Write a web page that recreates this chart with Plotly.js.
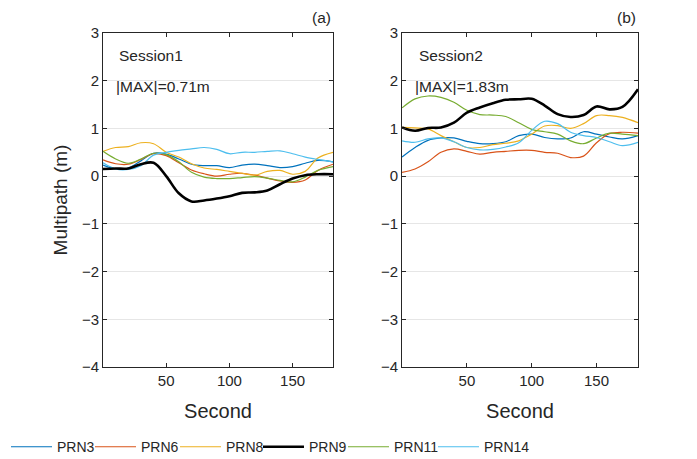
<!DOCTYPE html>
<html>
<head>
<meta charset="utf-8">
<script src="https://cdn.plot.ly/plotly-3.0.1.min.js"></script>
<style>html,body{margin:0;padding:0;background:#fff;}#chart{width:697px;height:459px;}</style>
</head>
<body>
<div id="chart"></div>
<script>
const seconds = [0,10,20,30,40,50,60,70,80,90,100,110,120,130,140,150,160,170,182];
const prnNames = ['PRN3','PRN6','PRN8','PRN9','PRN11','PRN14'];
const prnColors = ['#0072BD','#D95319','#EDB120','#000000','#77AC30','#4DBEEE'];

// Session 1
const s1_PRN3  = [0.23,0.15,0.17,0.32,0.48,0.46,0.36,0.25,0.22,0.22,0.18,0.23,0.25,0.22,0.18,0.20,0.27,0.33,0.30];
const s1_PRN6  = [0.34,0.26,0.25,0.35,0.47,0.43,0.28,0.13,0.05,0.00,0.04,0.06,0.02,-0.04,-0.10,-0.13,-0.08,0.12,0.25];
const s1_PRN8  = [0.52,0.60,0.62,0.70,0.68,0.50,0.40,0.26,0.17,0.14,0.10,0.06,0.02,0.10,0.12,0.04,0.10,0.38,0.50];
const s1_PRN9  = [0.15,0.16,0.16,0.25,0.28,0.00,-0.36,-0.53,-0.51,-0.47,-0.42,-0.35,-0.34,-0.30,-0.17,-0.05,0.02,0.04,0.04];
const s1_PRN11 = [0.52,0.36,0.27,0.36,0.48,0.45,0.30,0.08,-0.02,-0.05,-0.05,-0.03,-0.01,-0.04,-0.09,-0.12,-0.02,0.12,0.20];
const s1_PRN14 = [0.28,0.15,0.14,0.22,0.44,0.50,0.54,0.57,0.60,0.56,0.47,0.50,0.50,0.52,0.53,0.47,0.40,0.35,0.30];

// Session 2
const s2_PRN3  = [0.40,0.60,0.75,0.80,0.80,0.73,0.68,0.68,0.72,0.85,0.88,0.81,0.78,0.80,0.93,0.88,0.82,0.78,0.85];
const s2_PRN6  = [0.08,0.15,0.30,0.50,0.57,0.52,0.46,0.50,0.52,0.54,0.54,0.50,0.48,0.39,0.42,0.70,0.89,0.92,0.90];
const s2_PRN8  = [1.02,1.01,0.99,0.85,0.72,0.60,0.60,0.66,0.69,0.74,0.88,1.05,1.06,1.00,1.10,1.27,1.27,1.23,1.12];
const s2_PRN9  = [1.02,0.95,1.01,1.02,1.12,1.33,1.44,1.53,1.60,1.61,1.62,1.48,1.30,1.24,1.28,1.46,1.40,1.45,1.82];
const s2_PRN11 = [1.43,1.62,1.68,1.65,1.55,1.38,1.29,1.28,1.25,1.12,0.98,0.93,0.88,0.74,0.68,0.80,0.90,0.88,0.85];
const s2_PRN14 = [0.74,0.71,0.78,0.80,0.72,0.60,0.55,0.56,0.61,0.70,0.96,1.15,1.10,0.92,0.85,0.81,0.72,0.64,0.71];

const xTicks = [50,100,150];
const yTicks = [-4,-3,-2,-1,0,1,2,3];

const session1 = [s1_PRN3,s1_PRN6,s1_PRN8,s1_PRN9,s1_PRN11,s1_PRN14];
const session2 = [s2_PRN3,s2_PRN6,s2_PRN8,s2_PRN9,s2_PRN11,s2_PRN14];

const legendIds = ['legend','legend2','legend3','legend4','legend5','legend6'];
const legendX = [-0.1813,-0.0243,0.1346,0.2897,0.4486,0.6168];

const traces = [];
[session1, session2].forEach((sess, si) => {
  sess.forEach((vals, i) => {
    traces.push({
      x: seconds, y: vals, type: 'scatter', mode: 'lines',
      name: prnNames[i],
      legend: legendIds[i],
      showlegend: si === 0,
      xaxis: si === 0 ? 'x' : 'x2',
      yaxis: si === 0 ? 'y' : 'y2',
      line: {color: prnColors[i], width: prnNames[i] === 'PRN9' ? 2.6 : 1.2, shape: 'spline', smoothing: 1}
    });
  });
});
// draw PRN9 on top of the others
const ordered = traces.filter(t => t.name !== 'PRN9').concat(traces.filter(t => t.name === 'PRN9'));

const fam = 'Liberation Sans, Arial, sans-serif';
const txt = '#262626';

const xax = (dom) => ({
  domain: dom, range: [0, 182], tickvals: xTicks, ticks: 'inside', ticklen: 4, tickcolor: txt,
  showline: true, linecolor: txt, linewidth: 1, mirror: 'ticks', showgrid: false, zeroline: false,
  tickfont: {size: 15, family: fam, color: txt},
  title: {text: 'Second', font: {size: 20, family: fam, color: txt}, standoff: 15}
});
const yax = (anchor, showTitle) => ({
  anchor: anchor, domain: [0, 1], range: [-4, 3], tickvals: yTicks, ticks: 'inside', ticklen: 4, tickcolor: txt,
  showline: true, linecolor: txt, linewidth: 1, mirror: 'ticks', showgrid: true, gridcolor: '#e6e6e6', zeroline: false,
  tickfont: {size: 15, family: fam, color: txt},
  title: showTitle ? {text: 'Multipath (m)', font: {size: 19, family: fam, color: txt}, standoff: 9} : {text: ''}
});

const ann = (x, y, text, xanchor) => ({
  x: x, y: y, xref: 'paper', yref: 'paper', text: text, showarrow: false, xanchor: xanchor, yanchor: 'middle',
  font: {size: 15.5, family: fam, color: txt}
});

const layout = {
  width: 697, height: 459,
  margin: {l: 103, r: 59, t: 33, b: 92, autoexpand: false},
  paper_bgcolor: '#ffffff', plot_bgcolor: '#ffffff',
  font: {family: fam, color: txt},
  xaxis: xax([0, 0.43]),
  yaxis: yax('x', true),
  xaxis2: Object.assign(xax([0.559, 1]), {anchor: 'y2'}),
  yaxis2: yax('x2', false),
  showlegend: true,
  annotations: [
    ann(0.43, 1.045, '(a)', 'right'),
    ann(1.0, 1.045, '(b)', 'right'),
    ann(0.027, 0.934, 'Session1', 'left'),
    ann(0.02, 0.841, '|MAX|=0.71m', 'left'),
    ann(0.586, 0.934, 'Session2', 'left'),
    ann(0.58, 0.841, '|MAX|=1.83m', 'left')
  ]
};
legendIds.forEach((id, i) => {
  layout[id] = {
    orientation: 'h', x: legendX[i], xanchor: 'left', y: -0.24, yanchor: 'middle',
    font: {size: 14, family: fam, color: txt},
    itemwidth: 41, bgcolor: 'rgba(0,0,0,0)', borderwidth: 0
  };
});

Plotly.newPlot('chart', ordered, layout, {displayModeBar: false, staticPlot: true});
</script>
</body>
</html>
